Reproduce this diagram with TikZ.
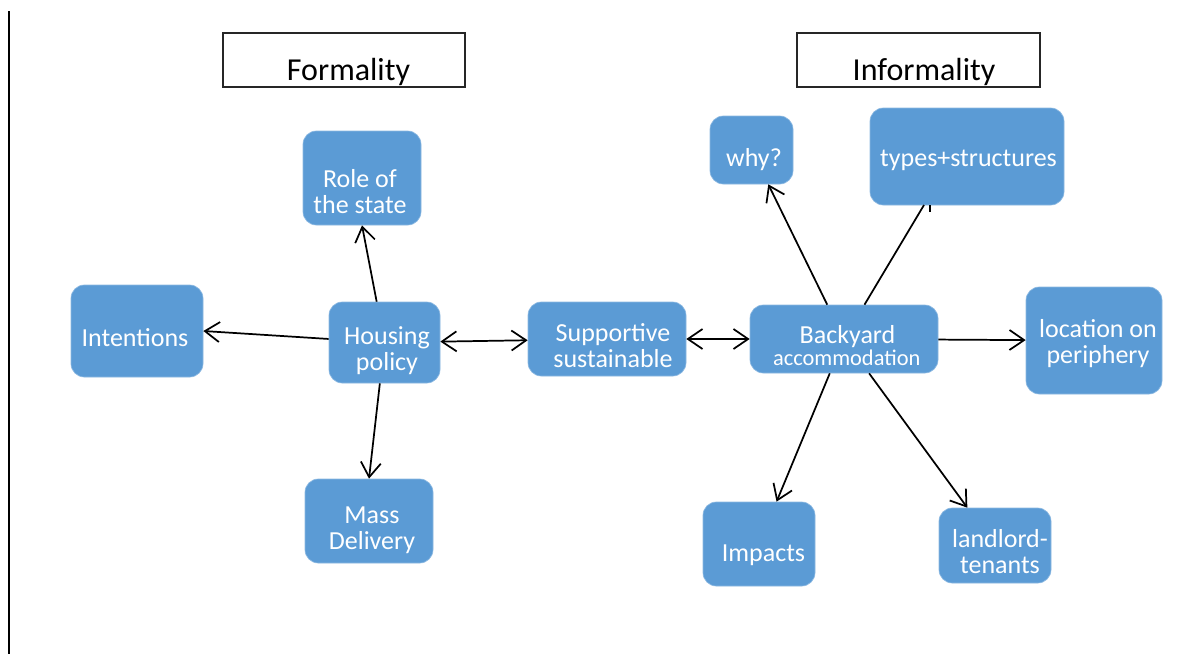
\documentclass[tikz,border=0pt]{standalone}
\usepackage{fontspec}
\setmainfont{Carlito}
\usetikzlibrary{arrows.meta,fit}
\definecolor{boxblue}{HTML}{5B9BD5}
\tikzset{
  bluebox/.style={fill=boxblue, draw=boxblue!70!white, line width=0.5pt, rounded corners=10pt, inner sep=0pt},
  titlebox/.style={draw=black!85, line width=0.9pt, inner sep=0pt},
  btxt/.style={text=white, align=center, anchor=base, inner sep=0pt,
    font=\fontsize{19.5pt}{18.8pt}\selectfont},
  stxt/.style={text=white, align=center, anchor=base, inner sep=0pt,
    font=\fontsize{16.8pt}{18pt}\selectfont},
  ttxt/.style={text=black, anchor=base, inner sep=0pt,
    font=\fontsize{24pt}{28pt}\selectfont},
  conn/.style={line width=1.3pt, draw=black},
  arr/.style={conn, -{Straight Barb[length=11pt,width=15pt,line width=1.3pt]}},
  darr/.style={conn, {Straight Barb[length=11pt,width=15pt,line width=1.3pt]}-{Straight Barb[length=11pt,width=15pt,line width=1.3pt]}}
}
\begin{document}
\begin{tikzpicture}[x=0.75pt,y=-0.75pt]
\useasboundingbox (0,0) rectangle (1199,654);
\fill[white] (0,0) rectangle (1199,654);
% left rule
\coordinate (ruleTop) at (9,11);
\coordinate (ruleBot) at (9,654);
\draw[line width=1.2pt] (ruleTop) -- (ruleBot);

% title boxes
\node[titlebox, fit={(223,33) (465,87)}] (formal) {};
\node[ttxt] (formalT) at (348.5,80) {Formality};
\node[titlebox, fit={(797,33) (1040,87)}] (informal) {};
\node[ttxt] (informalT) at (924,80) {Informality};

% blue boxes
\node[bluebox, fit={(303,131) (421,225)}] (role) {};
\node[bluebox, fit={(71,285) (203,377)}] (intent) {};
\node[bluebox, fit={(329,302) (440,383)}] (housing) {};
\node[bluebox, fit={(305,479) (433,563)}] (mass) {};
\node[bluebox, fit={(528,302) (686,376)}] (support) {};
\node[bluebox, fit={(750,305) (938,373)}] (backyard) {};
\node[bluebox, fit={(710,116) (793,184)}] (why) {};
\node[bluebox, fit={(870,108) (1064,205)}] (types) {};
\node[bluebox, fit={(1026,287) (1162,394)}] (loc) {};
\node[bluebox, fit={(703,502) (815,586)}] (impacts) {};
\node[bluebox, fit={(939,508) (1051,583)}] (landlord) {};

% texts (base anchor = baseline of the last line)
\node[btxt] (roleT) at (360,213) {Role of\\the state};
\node[btxt] (intentT) at (135,346) {Intentions};
\node[btxt] (housingT) at (387,370) {Housing\\policy};
\node[btxt] (massT) at (372,549) {Mass\\Delivery};
\node[btxt] (supportT) at (613,367) {Supportive\\sustainable};
\node[btxt] (backyardT) at (847.5,343) {Backyard};
\node[stxt] (accomT) at (846.7,365) {accommodation};
\node[btxt] (whyT) at (754,166) {why?};
\node[btxt] (typesT) at (968.5,166) {types+structures};
\node[btxt] (locT) at (1098,363) {location on\\periphery};
\node[btxt] (impactsT) at (763.5,561) {Impacts};
\node[btxt] (landlordT) at (1000,573) {landlord-\\tenants};

% connectors
\draw[arr] (housing) -- (role.south);
\draw[arr] (housing) -- (intent.east);
\draw[arr] (housing) -- (mass.north);
\draw[darr] (housing) -- (support);
\draw[darr] (support.east) -- (backyard.west);
\draw[arr] (backyard) -- (why);
\coordinate (typesEnd) at (924,205);
\draw[conn] (backyard) -- (typesEnd);
\coordinate (tickTop) at (930,205);
\coordinate (tickBot) at (930,212);
\draw[line width=0.9pt] (tickTop) -- (tickBot);
\draw[arr] (backyard) -- (loc);
\draw[arr] (backyard) -- (impacts);
\draw[arr] (backyard) -- (landlord);
\end{tikzpicture}
\end{document}
